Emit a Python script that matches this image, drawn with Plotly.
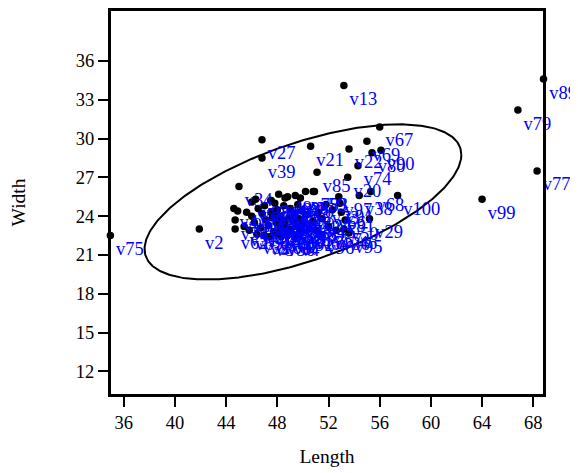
import numpy as np
import plotly.graph_objects as go

# ---- data: (name, Length, Width) ----
names = [
    "v1","v2","v3","v4","v5","v6","v7","v8","v9","v10",
    "v11","v12","v13","v14","v15","v16","v17","v18","v19","v20",
    "v21","v22","v23","v24","v25","v26","v27","v28","v29","v30",
    "v31","v32","v33","v34","v35","v36","v37","v38","v39","v40",
    "v41","v42","v43","v44","v45","v46","v47","v48","v49","v50",
    "v51","v52","v53","v54","v55","v56","v57","v58","v59","v60",
    "v61","v62","v63","v64","v65","v66","v67","v68","v69","v70",
    "v71","v72","v73","v74","v75","v76","v77","v78","v79","v80",
    "v81","v82","v83","v84","v85","v86","v87","v88","v89","v90",
    "v91","v92","v93","v94","v95","v96","v97","v98","v99","v100",
]
length = [
    48.2, 41.9, 47.0, 49.4, 46.5, 48.6, 50.2, 47.4, 49.1, 46.0,
    45.6, 48.9, 53.2, 47.7, 50.5, 48.0, 46.8, 49.6, 47.3, 53.5,
    50.6, 53.6, 48.4, 51.2, 46.2, 49.8, 46.8, 47.9, 55.2, 48.5,
    50.8, 46.4, 49.0, 45.0, 47.6, 52.6, 48.8, 54.4, 46.8, 50.0,
    44.6, 49.3, 47.1, 48.5, 51.5, 53.2, 46.7, 49.5, 48.1, 53.3,
    45.4, 50.3, 47.5, 44.7, 49.7, 48.3, 52.0, 46.0, 50.8, 47.5,
    49.0, 44.7, 48.0, 51.0, 45.8, 52.3, 56.0, 55.3, 55.0, 49.9,
    47.8, 48.6, 51.8, 54.3, 34.95, 49.2, 68.3, 47.0, 66.8, 55.4,
    53.0, 48.8, 50.9, 47.9, 51.1, 49.4, 46.3, 48.2, 68.8, 56.1,
    52.9, 49.8, 47.5, 44.9, 53.6, 51.4, 52.8, 48.6, 64.0, 57.4,
]
width = [
    23.1, 23.0, 22.5, 22.4, 24.6, 22.9, 25.9, 22.4, 22.7, 24.0,
    24.3, 23.9, 34.1, 22.8, 23.0, 24.5, 24.2, 24.9, 23.3, 27.0,
    29.4, 29.2, 23.7, 24.3, 23.5, 25.4, 29.9, 23.5, 23.8, 22.9,
    23.6, 22.6, 23.0, 26.3, 23.9, 22.9, 22.5, 25.6, 28.5, 23.4,
    24.6, 24.2, 23.7, 24.8, 23.8, 23.0, 23.1, 23.2, 25.7, 23.7,
    23.2, 24.1, 24.3, 23.7, 23.8, 22.4, 23.2, 25.1, 25.9, 25.2,
    24.6, 23.0, 22.6, 22.9, 22.9, 24.5, 30.9, 25.9, 29.8, 24.4,
    25.0, 23.4, 24.9, 27.9, 22.5, 23.6, 27.5, 24.8, 32.2, 28.9,
    24.3, 25.5, 25.9, 24.0, 27.4, 25.6, 25.3, 24.0, 34.6, 29.1,
    25.0, 22.8, 25.2, 24.4, 22.7, 22.6, 25.5, 25.4, 25.3, 25.6,
]

x_ticks = [36, 40, 44, 48, 52, 56, 60, 64, 68]
y_ticks = [12, 15, 18, 21, 24, 27, 30, 33, 36]

# density ellipse parameters
ell_center = (50.0, 25.1)
ell_sd_x = 12.38
ell_sd_y = 6.0
ell_corr = 0.607

cov_xy = ell_corr * ell_sd_x * ell_sd_y
L11 = ell_sd_x
L21 = cov_xy / ell_sd_x
L22 = np.sqrt(ell_sd_y**2 - L21**2)
t = np.linspace(0, 2 * np.pi, 361)
ex = ell_center[0] + L11 * np.cos(t)
ey = ell_center[1] + L21 * np.cos(t) + L22 * np.sin(t)

FONT = "Liberation Serif, Times New Roman, serif"

fig = go.Figure()
fig.add_trace(go.Scatter(x=ex, y=ey, mode="lines",
                         line=dict(color="black", width=2),
                         hoverinfo="skip", showlegend=False))
fig.add_trace(go.Scatter(x=length, y=width, mode="markers+text",
                         text=names, textposition="bottom right",
                         textfont=dict(family=FONT, size=18.5, color="#0000FF"),
                         marker=dict(color="black", size=7.5),
                         cliponaxis=False, showlegend=False))

axis_common = dict(showline=True, linecolor="black", linewidth=2, mirror=True,
                   ticks="outside", ticklen=10, tickwidth=1.5, tickcolor="black",
                   showgrid=False, zeroline=False, automargin=False,
                   tickfont=dict(family=FONT, size=18.5, color="black"))

fig.update_xaxes(range=[34.92, 68.84], tickvals=x_ticks,
                 title=dict(text="Length", font=dict(family=FONT, size=19.5, color="black"),
                            standoff=17),
                 **axis_common)
fig.update_yaxes(range=[10.17, 39.94], tickvals=y_ticks,
                 title=dict(text="Width", font=dict(family=FONT, size=19.5, color="black"),
                            standoff=48),
                 **axis_common)

# plot frame
fig.add_shape(type="rect", xref="paper", yref="paper", x0=0, x1=1, y0=0, y1=1,
              line=dict(color="black", width=2), fillcolor="rgba(0,0,0,0)",
              layer="above")

# page body has an 8px margin, so the figure is sized to fill the rest of the window
fig.update_layout(width=570, height=465,
                  margin=dict(l=102, r=34, t=2, b=78, pad=0),
                  plot_bgcolor="white", paper_bgcolor="white",
                  showlegend=False)

fig.write_html("out.html")
